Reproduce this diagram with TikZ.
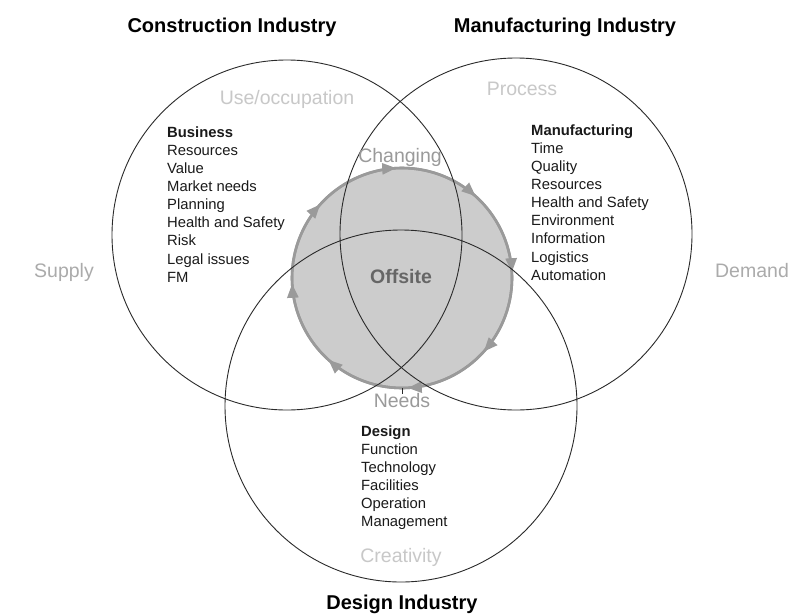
\documentclass[tikz,border=0pt]{standalone}
\usepackage{fontspec}
\setmainfont{Liberation Sans}
\usetikzlibrary{arrows.meta,decorations.markings}
\definecolor{ringgray}{HTML}{9A9A9A}
\definecolor{ringfill}{HTML}{CCCCCC}
\definecolor{lightlabel}{HTML}{C8C8C8}
\definecolor{midlabel}{HTML}{ABABAB}
\definecolor{darklabel}{HTML}{9A9A9A}
\definecolor{offsitegray}{HTML}{666666}
\definecolor{listcol}{HTML}{1A1A1A}
\definecolor{vennline}{HTML}{2A2A2A}
\tikzset{
  venn/.style={draw=vennline, line width=0.9pt},
  ring/.style={draw=ringgray, fill=ringfill, line width=2.6pt},
  title/.style={inner sep=0pt, anchor=base, font=\fontsize{20}{24}\selectfont\bfseries, text=black},
  glabel/.style={inner sep=0pt, anchor=base, font=\fontsize{19.5}{23}\selectfont},
  listtext/.style={inner sep=0pt, anchor=north west, align=left, text=listcol, font=\fontsize{14.8}{18.1}\selectfont}
}
\begin{document}
\begin{tikzpicture}[x=1pt,y=1pt]
\useasboundingbox (0,0) rectangle (805,-613);
\fill[white] (0,0) rectangle (805,-613);

% central offsite ring
\path[ring] (402,-278) circle[radius=110];
\draw[draw=ringgray, line width=2.6pt, postaction={decorate},
  decoration={markings, mark=between positions 0.0625 and 1 step 0.125 with {\arrow[ringgray]{Triangle[length=14pt 0,width=11pt 0]}}}]
  (402,-278) ++(115.5:110) arc[start angle=115.5, end angle=-244.5, radius=110];

% three industry circles
\draw[venn] (287,-235) circle[radius=175];
\draw[venn] (516,-234) circle[radius=176];
\draw[venn] (401,-406) circle[radius=176];

% small tick below ring
\coordinate (tickA) at (402,-388);
\coordinate (tickB) at (402,-394);
\draw[vennline, line width=0.8pt] (tickA) -- (tickB);

% titles
\node[title] (tcon) at (232,-32) {Construction Industry};
\node[title] (tman) at (565,-32) {Manufacturing Industry};
\node[title] (tdes) at (402,-609) {Design Industry};

% grey labels
\node[glabel, text=lightlabel] (use) at (287,-104) {Use/occupation};
\node[glabel, text=lightlabel] (proc) at (522,-95) {Process};
\node[glabel, text=lightlabel] (crea) at (401,-562) {Creativity};
\node[glabel, text=midlabel] (supp) at (64,-277) {Supply};
\node[glabel, text=midlabel] (dema) at (752,-277) {Demand};
\node[glabel, text=darklabel] (chan) at (400,-162) {Changing};
\node[glabel, text=darklabel] (need) at (402,-407) {Needs};
\node[glabel, text=offsitegray, font=\fontsize{19.5}{23}\selectfont\bfseries] (offs) at (401,-283) {Offsite};

% lists
\node[listtext] (business) at (167,-126.4) {\textbf{Business}\\Resources\\Value\\Market needs\\Planning\\Health and Safety\\Risk\\Legal issues\\FM};
\node[listtext] (manuf) at (531,-124.4) {\textbf{Manufacturing}\\Time\\Quality\\Resources\\Health and Safety\\Environment\\Information\\Logistics\\Automation};
\node[listtext] (design) at (361,-425.4) {\textbf{Design}\\Function\\Technology\\Facilities\\Operation\\Management};
\end{tikzpicture}
\end{document}
